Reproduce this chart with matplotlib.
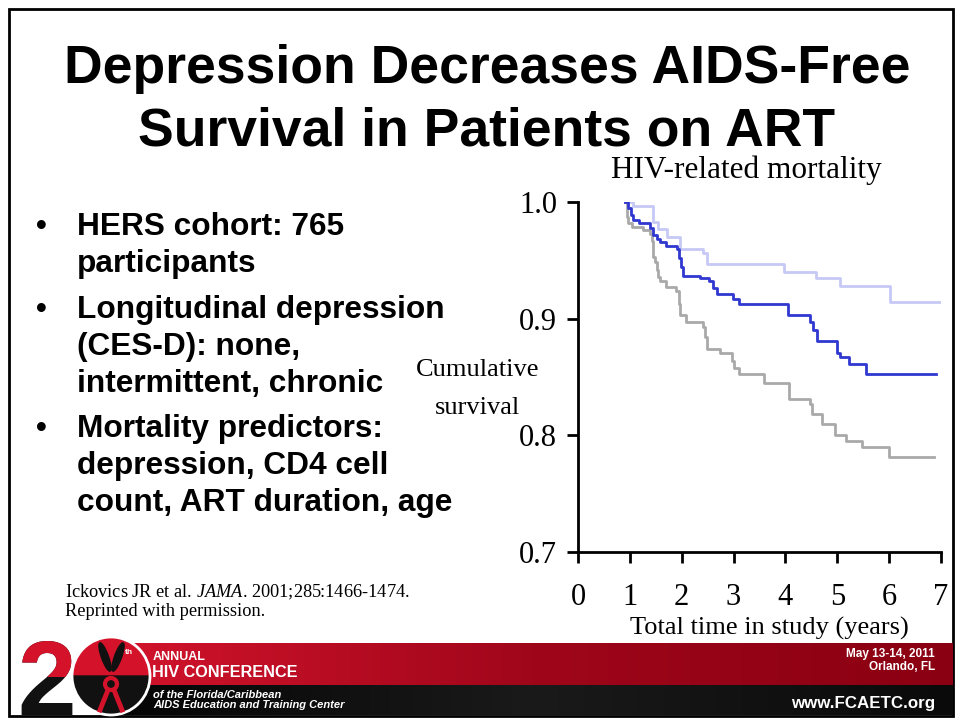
import numpy as np
import matplotlib
matplotlib.use('Agg')
import matplotlib.pyplot as plt
from matplotlib.patches import Rectangle, Wedge, Circle, Ellipse
from matplotlib.colors import LinearSegmentedColormap
from matplotlib.transforms import Bbox, TransformedBbox

plt.rcParams['mathtext.fontset'] = 'custom'
plt.rcParams['mathtext.rm'] = 'Liberation Serif'
plt.rcParams['mathtext.it'] = 'Liberation Serif:italic'

# Kaplan-Meier style curves (time in years, cumulative survival)
t_none = [0.91, 1.07, 1.45, 1.55, 1.71, 1.97, 2.42, 2.48, 3.98, 4.58, 5.06, 6.01, 7.0]
s_none = [1.0, 0.997, 0.983, 0.977, 0.970, 0.960, 0.956, 0.947, 0.940, 0.935, 0.928, 0.914, 0.914]

t_inter = [0.91, 0.97, 1.02, 1.06, 1.18, 1.39, 1.44, 1.52, 1.58, 1.70, 1.90, 1.94, 1.98, 2.02,
           2.36, 2.52, 2.61, 2.68, 2.99, 3.10, 4.04, 4.48, 4.54, 4.61, 4.99, 5.06, 5.22, 5.56, 6.91]
s_inter = [1.0, 0.995, 0.989, 0.985, 0.982, 0.978, 0.972, 0.968, 0.966, 0.962, 0.960, 0.952, 0.944, 0.937,
           0.935, 0.932, 0.926, 0.921, 0.917, 0.913, 0.903, 0.897, 0.890, 0.881, 0.871, 0.867, 0.861, 0.853, 0.853]

t_chron = [0.91, 0.94, 0.97, 1.04, 1.26, 1.38, 1.42, 1.45, 1.49, 1.52, 1.55, 1.58, 1.70, 1.89, 1.94,
           1.97, 2.09, 2.42, 2.45, 2.48, 2.74, 2.97, 3.00, 3.10, 3.59, 4.06, 4.48, 4.51, 4.70, 4.96,
           5.17, 5.48, 5.99, 6.86]
s_chron = [1.0, 0.987, 0.982, 0.979, 0.976, 0.973, 0.967, 0.953, 0.949, 0.942, 0.936, 0.932, 0.927, 0.924, 0.913,
           0.903, 0.897, 0.893, 0.884, 0.874, 0.871, 0.864, 0.858, 0.853, 0.845, 0.831, 0.827, 0.818, 0.810, 0.800,
           0.795, 0.790, 0.781, 0.781]

x_ticks = [0, 1, 2, 3, 4, 5, 6, 7]
y_ticks = [0.7, 0.8, 0.9, 1.0]

title_lines = ['Depression Decreases AIDS-Free', 'Survival in Patients on ART']
bullets = [
    ('HERS cohort: 765', True), ('participants', False),
    ('Longitudinal depression', True), ('(CES-D): none,', False), ('intermittent, chronic', False),
    ('Mortality predictors:', True), ('depression, CD4 cell', False), ('count, ART duration, age', False),
]
bullet_y = [235, 272, 318, 355, 392, 437, 474, 511]

SANS = 'Liberation Sans'
SERIF = 'Liberation Serif'

fig = plt.figure(figsize=(9.6, 7.21), dpi=100)

# background layer in pixel coordinates
bg = fig.add_axes([0, 0, 1, 1])
bg.axis('off')

bg.add_patch(Rectangle((8.5, 9), 944, 707, fill=False, lw=2, ec='black'))

for i, line in enumerate(title_lines):
    bg.text(487, 83 + i * 63, line, ha='center', va='baseline', fontsize=38.5,
            fontweight='bold', family=SANS)

for (line, has_dot), y in zip(bullets, bullet_y):
    if has_dot:
        bg.text(36, y, '\u2022', ha='left', va='baseline', fontsize=22, fontweight='bold', family=SANS)
    bg.text(77, y, line, ha='left', va='baseline', fontsize=22.8, fontweight='bold', family=SANS)

bg.text(65, 597, r'Ickovics JR et al. $\mathit{JAMA}$. 2001;285:1466-1474.', ha='left', va='baseline',
        fontsize=13.2, family=SERIF)
bg.text(65, 616, 'Reprinted with permission.', ha='left', va='baseline', fontsize=13.2, family=SERIF)

bg.text(746, 170, 'HIV-related mortality', ha='center', va='center', fontsize=22.5, family=SERIF)
bg.text(478, 370, 'Cumulative', ha='center', va='center', fontsize=19, family=SERIF)
bg.text(478, 408, 'survival', ha='center', va='center', fontsize=19, family=SERIF)
bg.text(769, 628, 'Total time in study (years)', ha='center', va='center', fontsize=19, family=SERIF)

# footer bands
red_cmap = LinearSegmentedColormap.from_list('r', ['#d2142c', '#a0061a', '#8a0012'])
grad = np.linspace(0, 1, 256).reshape(1, -1)
bg.imshow(grad, extent=(110, 953, 685, 643), aspect='auto', cmap=red_cmap, zorder=1)
blk_cmap = LinearSegmentedColormap.from_list('k', ['#050505', '#1a1a1a', '#0a0a0a'])
bg.imshow(grad, extent=(110, 953, 715, 685), aspect='auto', cmap=blk_cmap, zorder=1)
bg.set_xlim(0, 960)
bg.set_ylim(721, 0)

# logo: two-tone "2" (black, with red upper half on top) and circle
bg.text(47, 715, '2', ha='center', va='baseline', fontsize=76, fontweight='bold',
        family=SANS, color='#111111', zorder=3)
t_red = bg.text(47, 715, '2', ha='center', va='baseline', fontsize=76, fontweight='bold',
                family=SANS, color='#d4122a', zorder=3)
t_red.set_clip_path(None)
t_red.set_clip_box(TransformedBbox(Bbox.from_extents(0, 600, 200, 677), bg.transData))
t_red.set_clip_on(True)

cx, cy, r = 111, 676, 39
bg.add_patch(Wedge((cx, cy), r, 180, 360, color='#d4122a', zorder=3))
bg.add_patch(Wedge((cx, cy), r, 0, 180, color='#111111', zorder=3))
bg.add_patch(Circle((cx, cy), r, fill=False, ec='white', lw=2, zorder=4))
bg.add_patch(Ellipse((cx - 6, 657), 7, 30, angle=-20, color='#111111', zorder=4))
bg.add_patch(Ellipse((cx + 7, 657), 7, 30, angle=20, color='#111111', zorder=4))
bg.add_patch(Circle((cx, 684), 6, fill=False, ec='#d4122a', lw=3, zorder=4))
bg.plot([cx - 3, cx - 11], [690, 710], color='#d4122a', lw=3.5, zorder=4)
bg.plot([cx + 3, cx + 11], [690, 710], color='#d4122a', lw=3.5, zorder=4)
bg.text(cx + 18, 652, 'th', fontsize=6, fontweight='bold', color='white', family=SANS, zorder=5,
        ha='center', va='center')

bg.text(153, 660, 'ANNUAL', ha='left', va='baseline', fontsize=9, fontweight='bold',
        color='white', family=SANS, zorder=5)
bg.text(152, 677, 'HIV CONFERENCE', ha='left', va='baseline', fontsize=11.7, fontweight='bold',
        color='white', family=SANS, zorder=5)
bg.text(153, 698, 'of the Florida/Caribbean', ha='left', va='baseline', fontsize=8,
        fontweight='bold', style='italic', color='white', family=SANS, zorder=5)
bg.text(153, 708, 'AIDS Education and Training Center', ha='left', va='baseline', fontsize=8,
        fontweight='bold', style='italic', color='white', family=SANS, zorder=5)
bg.text(935, 657, 'May 13-14, 2011', ha='right', va='baseline', fontsize=8.5, fontweight='bold',
        color='white', family=SANS, zorder=5)
bg.text(935, 670, 'Orlando, FL', ha='right', va='baseline', fontsize=8.5, fontweight='bold',
        color='white', family=SANS, zorder=5)
bg.text(935, 708, 'www.FCAETC.org', ha='right', va='baseline', fontsize=12.2, fontweight='bold',
        color='white', family=SANS, zorder=5)

# survival chart
ax = fig.add_axes([578 / 960, 1 - 552 / 721, (941 - 578) / 960, (552 - 202) / 721])
ax.patch.set_alpha(0)
ax.step(t_none, s_none, where='post', color='#c6c9f6', lw=2)
ax.step(t_chron, s_chron, where='post', color='#a9a9a9', lw=2)
ax.step(t_inter, s_inter, where='post', color='#3038d0', lw=2)
ax.set_xlim(0, 7)
ax.set_ylim(0.7, 1.0)
for side in ['top', 'right']:
    ax.spines[side].set_visible(False)
for side in ['left', 'bottom']:
    ax.spines[side].set_linewidth(2)
ax.set_xticks(x_ticks)
ax.set_xticklabels([str(v) for v in x_ticks])
ax.set_yticks(y_ticks)
ax.set_yticklabels(['%.1f' % v for v in y_ticks])
ax.tick_params(axis='both', direction='out', width=2, labelsize=22)
ax.tick_params(axis='y', length=8, pad=7)
ax.tick_params(axis='x', length=8, pad=14)
for lab in ax.get_xticklabels() + ax.get_yticklabels():
    lab.set_family(SERIF)

fig.savefig('out.png', dpi=100)
